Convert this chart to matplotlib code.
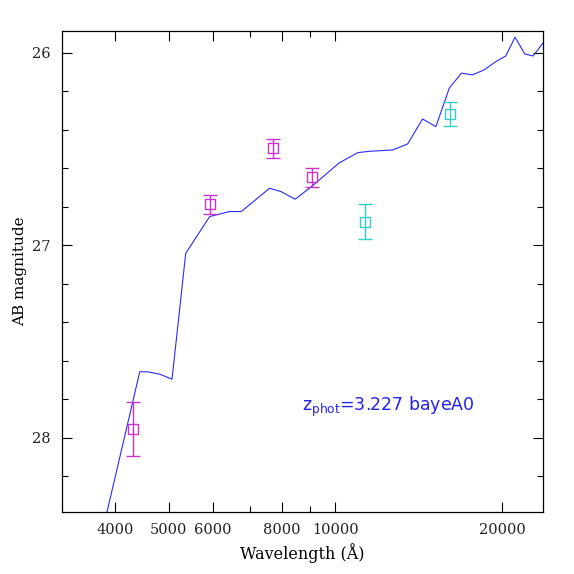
import matplotlib
matplotlib.use("Agg")
import matplotlib.pyplot as plt
from matplotlib.ticker import FixedLocator, NullFormatter

# SED model (template fit)
sed_wave = [3850, 3998, 4434, 4590, 4819, 5070, 5367, 5929, 6442, 6761, 7606, 7985,
            8460, 9101, 10137, 10969, 11515, 12683, 13499, 14365, 15184, 16049,
            16888, 17676, 18558, 19479, 20302, 21101, 21970, 22740, 23750]
sed_mag = [28.41, 28.21, 27.656, 27.657, 27.669, 27.695, 27.041, 26.850, 26.824, 26.824,
           26.703, 26.721, 26.760, 26.689, 26.573, 26.518, 26.511, 26.504, 26.473,
           26.343, 26.383, 26.183, 26.105, 26.114, 26.088, 26.045, 26.016, 25.918,
           26.005, 26.016, 25.945]

# optical photometry (magenta)
opt_wave = [4313, 5946, 7709, 9078]
opt_mag = [27.955, 26.786, 26.495, 26.646]
opt_err = [0.14, 0.05, 0.05, 0.05]

# near-IR photometry (cyan)
nir_wave = [11325, 16093]
nir_mag = [26.876, 26.317]
nir_err = [0.09, 0.06]

major_x = [4000, 5000, 6000, 8000, 10000, 20000]
minor_x = [7000, 9000]

plt.rcParams["font.family"] = ["DejaVu Serif"]

fig = plt.figure(figsize=(5.74, 5.74), dpi=100)
ax = fig.add_axes([0.108, 0.108, 0.838, 0.838])

ax.plot(sed_wave, sed_mag, color="#2a2aff", lw=0.8)
ax.errorbar(opt_wave, opt_mag, yerr=opt_err, fmt="s", mfc="none", mec="#cc33cc",
            ecolor="#cc33cc", ms=7.5, mew=1.0, elinewidth=1.0, capsize=5, capthick=1.0)
ax.errorbar(nir_wave, nir_mag, yerr=nir_err, fmt="s", mfc="none", mec="#33cccc",
            ecolor="#33cccc", ms=7.5, mew=1.0, elinewidth=1.0, capsize=5, capthick=1.0)

ax.set_xscale("log")
ax.set_xlim(3209, 23700)
ax.set_ylim(28.385, 25.886)

ax.xaxis.set_major_locator(FixedLocator(major_x))
ax.xaxis.set_major_formatter(plt.FixedFormatter([str(v) for v in major_x]))
ax.xaxis.set_minor_locator(FixedLocator(minor_x))
ax.xaxis.set_minor_formatter(NullFormatter())
ax.yaxis.set_major_locator(FixedLocator([26, 27, 28]))
ax.yaxis.set_minor_locator(FixedLocator([26.2, 26.4, 26.6, 26.8, 27.2, 27.4, 27.6, 27.8, 28.2]))

ax.tick_params(which="both", direction="in", top=True, right=True, labelsize=10.5, pad=8,
               labelcolor="#222222")
ax.tick_params(which="major", length=7.5, width=0.8)
ax.tick_params(which="minor", length=4.5, width=0.8)
for s in ax.spines.values():
    s.set_linewidth(0.9)

ax.set_xlabel("Wavelength (Å)", fontsize=11.5)
ax.set_ylabel("AB magnitude", fontsize=11)

ax.text(0.50, 0.218, r"z$_{\rm phot}$=3.227 bayeA0", transform=ax.transAxes,
        color="#2222ee", fontsize=12.5, va="center", ha="left", family="DejaVu Sans")

fig.savefig("out.png", dpi=100)
